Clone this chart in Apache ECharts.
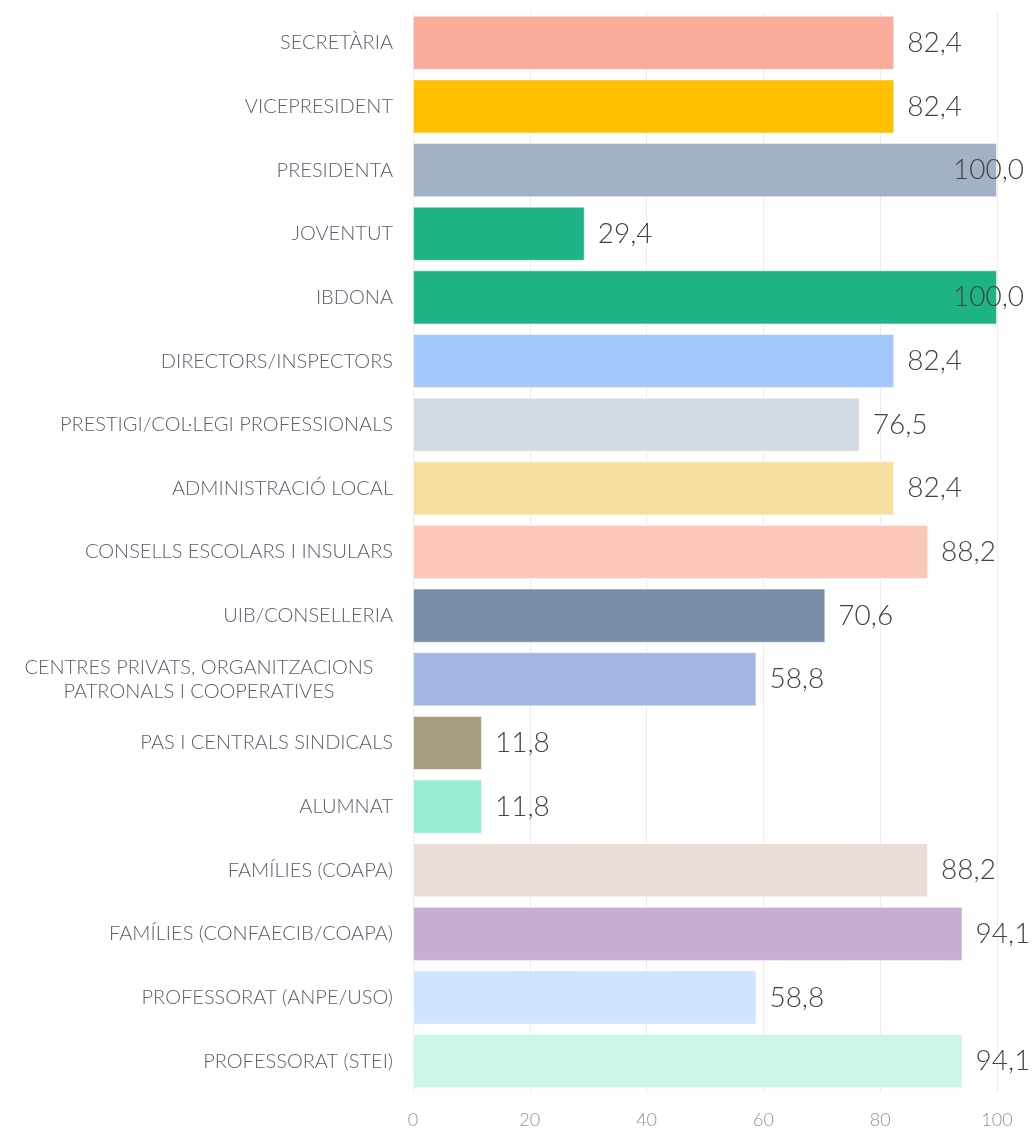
<!DOCTYPE html>
<html>
<head>
<meta charset="utf-8">
<script src="https://cdn.jsdelivr.net/npm/echarts@6/dist/echarts.min.js"></script>
<style>
  html, body { margin: 0; padding: 0; background: #fff; }
  #chart { width: 1036px; height: 1130px; }
</style>
</head>
<body>
<div id="chart"></div>
<script>
// categories, top to bottom
const categories = [
    'SECRETÀRIA',
    'VICEPRESIDENT',
    'PRESIDENTA',
    'JOVENTUT',
    'IBDONA',
    'DIRECTORS/INSPECTORS',
    'PRESTIGI/COL·LEGI PROFESSIONALS',
    'ADMINISTRACIÓ LOCAL',
    'CONSELLS ESCOLARS I INSULARS',
    'UIB/CONSELLERIA',
    'CENTRES PRIVATS, ORGANITZACIONS\nPATRONALS I COOPERATIVES',
    'PAS I CENTRALS SINDICALS',
    'ALUMNAT',
    'FAMÍLIES (COAPA)',
    'FAMÍLIES (CONFAECIB/COAPA)',
    'PROFESSORAT (ANPE/USO)',
    'PROFESSORAT (STEI)'
];

const values = [82.4, 82.4, 100.0, 29.4, 100.0, 82.4, 76.5, 82.4, 88.2, 70.6, 58.8, 11.8, 11.8, 88.2, 94.1, 58.8, 94.1];

const barColors = [
    '#fbab9a', '#ffc000', '#a3b1c4', '#1eb386', '#1eb386', '#a3c9fc',
    '#d4dbe3', '#f6df9f', '#fcc7b9', '#778da8', '#a3b5e3', '#a89d80',
    '#98ebd4', '#eaded9', '#c6aed3', '#d1e4fd', '#cbf5e8'
];

const xTicks = [0, 20, 40, 60, 80, 100];

const chart = echarts.init(document.getElementById('chart'));

// etiqueta en dues línies, centrada com a l'original
const yData = categories.map(c => {
    if (c.indexOf('\n') >= 0) {
        return { value: c, textStyle: { align: 'center', padding: [0, 388, 0, 0] } };
    }
    return c;
});

const seriesData = values.map((v, i) => {
    const item = { value: v, itemStyle: { color: barColors[i] } };
    if (v >= 100) {
        // a l'original l'etiqueta queda dins del marc
        item.label = { position: 'insideRight', offset: [40, 0] };
    }
    return item;
});

chart.setOption({
    backgroundColor: '#fff',
    animation: false,
    grid: {
        left: 413,
        right: 39,
        top: 11,
        bottom: 37
    },
    xAxis: {
        type: 'value',
        min: xTicks[0],
        max: xTicks[xTicks.length - 1],
        interval: 20,
        axisLine: { show: false },
        axisTick: { show: false },
        splitLine: { lineStyle: { color: '#ececec', width: 1 } },
        axisLabel: {
            color: '#8a909c',
            fontFamily: 'Lato',
            fontWeight: 300,
            fontSize: 18,
            margin: 18
        }
    },
    yAxis: {
        type: 'category',
        inverse: true,
        data: yData,
        axisLine: { show: false },
        axisTick: { show: false },
        axisLabel: {
            color: '#56606e',
            fontFamily: 'Lato',
            fontWeight: 300,
            fontSize: 20,
            margin: 20,
            lineHeight: 24
        }
    },
    series: [{
        type: 'bar',
        data: seriesData,
        barCategoryGap: '15%',
        itemStyle: {
            borderColor: 'rgba(255,255,255,0.5)',
            borderWidth: 1
        },
        label: {
            show: true,
            position: 'right',
            distance: 13,
            color: '#444',
            fontFamily: 'Lato',
            fontWeight: 300,
            fontSize: 28,
            formatter: p => p.value.toFixed(1).replace('.', ',')
        }
    }]
});

window.addEventListener('resize', () => chart.resize());
</script>
</body>
</html>
